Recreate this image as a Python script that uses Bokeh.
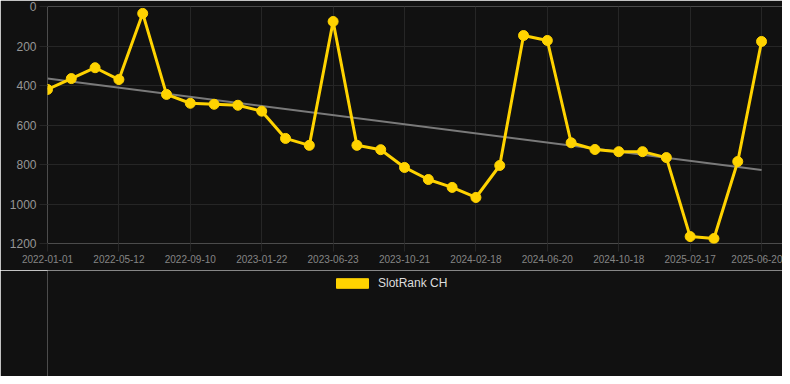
import numpy as np
from bokeh.plotting import figure
from bokeh.layouts import column
from bokeh.models import Range1d, FixedTicker, Legend, LegendItem
from bokeh.embed import file_html
from bokeh.resources import INLINE

# ---- data ----
tick_labels = ["2022-01-01", "2022-05-12", "2022-09-10", "2023-01-22", "2023-06-23",
               "2023-10-21", "2024-02-18", "2024-06-20", "2024-10-18", "2025-02-17",
               "2025-06-20"]
rank_ch = [420, 365, 310, 370, 35, 445, 490, 495, 500, 530,
           668, 703, 76, 703, 725, 815, 876, 916, 967, 805,
           147, 172, 690, 724, 735, 735, 765, 1165, 1175, 785,
           177]
series_name = "SlotRank CH"

idx = list(range(len(rank_ch)))
tick_idx = idx[::3]

# trend line (least squares)
slope, intercept = np.polyfit(idx, rank_ch, 1)
trend_x = [idx[0], idx[-1]]
trend_y = [intercept + slope * idx[0], intercept + slope * idx[-1]]

BG = "#111111"
YELLOW = "#FFD300"
GRID = "#262626"
FONT = "Liberation Sans"

p = figure(frame_width=735, frame_height=237, output_backend="svg", toolbar_location=None,
           x_range=Range1d(0, 30.88), y_range=Range1d(1200, 0),
           min_border_left=47, min_border_right=0, min_border_top=6,
           min_border_bottom=27)
p.background_fill_color = BG
p.border_fill_color = BG
p.outline_line_color = None

p.line(trend_x, trend_y, line_color="#7a7a7a", line_width=2)
p.line(idx, rank_ch, line_color=YELLOW, line_width=3)
p.scatter(idx, rank_ch, size=10, fill_color=YELLOW, line_color=YELLOW)

# axes
xa = p.xaxis[0]
xa.ticker = FixedTicker(ticks=tick_idx)
xa.major_label_overrides = {i: lab for i, lab in zip(tick_idx, tick_labels)}
xa.axis_line_color = None
xa.major_tick_line_color = GRID
xa.major_tick_out = 8
xa.major_tick_in = 0
xa.minor_tick_line_color = None
xa.major_label_standoff = 3
xa.major_label_text_color = "#858585"
xa.major_label_text_font = FONT
xa.major_label_text_font_size = "10px"

ya = p.yaxis[0]
ya.ticker = FixedTicker(ticks=[0, 200, 400, 600, 800, 1000, 1200])
ya.axis_line_color = None
ya.major_tick_line_color = GRID
ya.major_tick_out = 8
ya.major_tick_in = 0
ya.minor_tick_line_color = None
ya.major_label_standoff = 3
ya.major_label_text_color = "#969696"
ya.major_label_text_font = FONT
ya.major_label_text_font_size = "12px"

p.xgrid.grid_line_color = GRID
p.ygrid.grid_line_color = GRID
p.xgrid.ticker = FixedTicker(ticks=tick_idx)

# ---- legend strip below the chart ----
lg = figure(frame_width=735, frame_height=106, output_backend="svg", toolbar_location=None,
            x_range=Range1d(0, 1), y_range=Range1d(0, 1),
            x_axis_location=None, y_axis_location=None,
            min_border_left=47, min_border_right=0, min_border_top=0, min_border_bottom=0)
lg.background_fill_color = BG
lg.border_fill_color = BG
lg.outline_line_color = None
lg.xgrid.visible = False
lg.ygrid.visible = False
# swatch renderer (its single point lies outside this strip's ranges)
box = lg.quad(left=idx[:1], right=idx[:1], top=rank_ch[:1], bottom=rank_ch[:1],
              fill_color=YELLOW, line_color=YELLOW, line_width=1)
legend = Legend(items=[LegendItem(label=series_name, renderers=[box])],
                location=(285, 86), orientation="horizontal",
                glyph_width=40, glyph_height=12, label_standoff=6,
                label_height=12, padding=0, margin=0, border_line_color=None,
                background_fill_alpha=0, label_text_color="#dddddd",
                label_text_font=FONT, label_text_font_size="12px")
lg.add_layout(legend, "center")

open("out.html", "w").write(file_html(column(p, lg, spacing=0), INLINE))
